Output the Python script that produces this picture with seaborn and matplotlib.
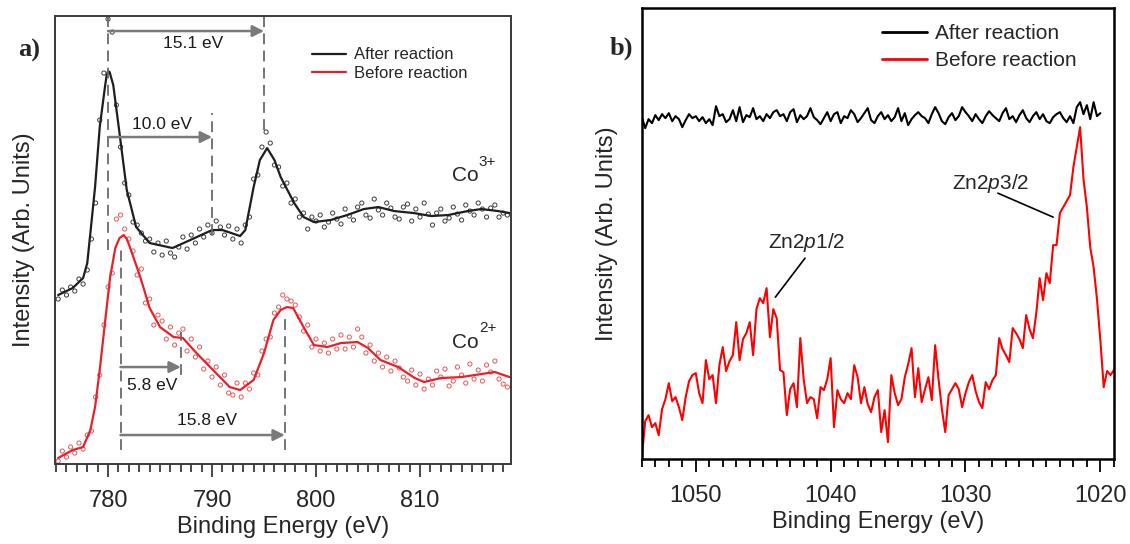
import numpy as np
import pandas as pd
import matplotlib
matplotlib.use('Agg')
import matplotlib.pyplot as plt
import seaborn as sns
from matplotlib.lines import Line2D
from matplotlib.ticker import MultipleLocator

# ---------------- panel a: Co 2p ----------------
# smoothed curves (binding energy, intensity in arb. units)
co_after_e = [775.2, 776.6, 777.6, 778.0, 778.3, 778.75, 779.2, 779.7, 779.85, 780.0, 780.15,
              780.5, 781.1, 781.8, 782.7, 784.0, 786.2, 787.9, 790.0, 791.0, 792.7, 793.2,
              794.0, 794.6, 795.3, 796.0, 796.6, 797.9, 798.8, 799.8, 801.4, 803.0, 804.6,
              806.0, 807.5, 809.4, 811.1, 812.7, 814.6, 815.9, 817.5, 818.6]
co_after_i = [170, 177, 187, 202, 232, 278, 338, 378, 389, 394, 393,
              380, 332, 275, 238, 222, 217, 225, 235, 235, 229, 235,
              278, 305, 317, 305, 288, 262, 248, 243, 245, 250, 256,
              258, 254, 252, 249, 250, 254, 256, 254, 252]

co_before_e = [775.2, 776.6, 777.6, 778.3, 778.75, 779.2, 779.7, 780.2, 780.7, 781.1, 781.5,
               781.8, 782.1, 783.1, 784.0, 785.0, 786.3, 787.2, 788.5, 790.1, 791.7, 792.7,
               794.0, 795.0, 795.9, 796.6, 797.2, 797.8, 798.8, 799.8, 801.1, 802.4, 804.0,
               805.0, 806.2, 807.9, 809.5, 810.4, 812.0, 814.0, 815.9, 817.2, 818.6]
co_before_i = [7, 15, 18, 35, 58, 95, 142, 188, 217, 227, 230,
               226, 218, 188, 157, 138, 128, 127, 112, 95, 78, 75,
               85, 112, 145, 155, 158, 157, 138, 120, 118, 122, 123,
               117, 105, 98, 87, 83, 87, 88, 91, 93, 88]

# raw points, one every 0.4 eV starting at 775.2 eV
co_pts_start, co_pts_step = 775.2, 0.4
co_after_pts = [166, 175, 170, 178, 174, 186, 181, 195, 226, 262,
                345, 392, 446, 433, 360, 318, 282, 270, 243, 240,
                232, 224, 226, 213, 222, 210, 224, 212, 208, 218,
                228, 216, 230, 222, 236, 228, 240, 232, 244, 238,
                230, 239, 226, 236, 222, 240, 248, 286, 290, 318,
                333, 322, 300, 298, 279, 282, 262, 266, 248, 252,
                236, 248, 244, 250, 238, 243, 252, 246, 241, 256,
                249, 245, 258, 262, 250, 247, 266, 255, 250, 262,
                257, 248, 246, 258, 261, 244, 256, 248, 262, 251,
                240, 252, 256, 244, 247, 258, 251, 245, 260, 254,
                250, 262, 256, 248, 257, 260, 248, 252, 250]
co_before_pts = [4, 14, 8, 18, 12, 22, 16, 30, 34, 68,
                 90, 140, 178, 192, 246, 250, 236, 226, 214, 190,
                 196, 162, 166, 140, 150, 144, 126, 138, 120, 132,
                 136, 114, 126, 108, 118, 96, 104, 88, 98, 80,
                 90, 72, 70, 82, 68, 82, 76, 92, 90, 114,
                 126, 128, 152, 158, 170, 166, 164, 160, 148, 134,
                 140, 118, 126, 114, 122, 112, 126, 116, 130, 116,
                 128, 118, 136, 128, 112, 120, 104, 112, 98, 108,
                 94, 104, 97, 88, 84, 95, 80, 91, 76, 86,
                 80, 94, 88, 96, 79, 84, 98, 90, 82, 101,
                 86, 95, 84, 100, 93, 104, 86, 81, 78]

# ---------------- panel b: Zn 2p ----------------
# one value every 0.25 eV, going down from 1054 eV
zn_start, zn_step = 1054.0, 0.25
zn_after = [342, 331, 340, 336, 344, 339, 345, 341,
            346, 338, 343, 340, 332, 339, 345, 341,
            343, 338, 342, 336, 340, 334, 353, 343,
            345, 337, 340, 349, 338, 352, 337, 344,
            342, 351, 340, 343, 338, 345, 341, 347,
            349, 343, 345, 338, 347, 350, 337, 344,
            340, 343, 351, 342, 339, 335, 341, 347,
            338, 345, 347, 336, 343, 341, 349, 345,
            337, 341, 346, 351, 339, 336, 343, 347,
            340, 344, 338, 342, 351, 338, 346, 334,
            340, 344, 347, 343, 341, 336, 345, 352,
            346, 338, 335, 342, 346, 339, 343, 352,
            347, 343, 338, 345, 340, 336, 343, 348,
            344, 341, 338, 346, 351, 340, 343, 337,
            344, 349, 341, 337, 343, 347, 340, 345,
            338, 336, 342, 345, 347, 341, 337, 343,
            336, 352, 357, 345, 354, 340, 357, 343,
            346]
zn_before = [2, 38, 44, 32, 36, 24, 50, 60,
             76, 58, 62, 52, 39, 62, 78, 84,
             86, 66, 56, 99, 80, 84, 56, 94,
             112, 88, 98, 104, 137, 99, 120, 126,
             137, 104, 150, 161, 156, 171, 122, 150,
             141, 89, 87, 44, 70, 76, 52, 121,
             80, 56, 62, 60, 41, 72, 69, 80,
             101, 32, 69, 60, 56, 66, 60, 94,
             82, 56, 72, 55, 47, 62, 69, 27,
             49, 17, 84, 66, 54, 60, 82, 95,
             111, 62, 91, 57, 70, 82, 59, 114,
             80, 50, 27, 64, 70, 76, 70, 52,
             66, 77, 84, 68, 57, 51, 77, 70,
             79, 84, 121, 110, 104, 97, 131, 126,
             120, 111, 144, 130, 121, 146, 181, 159,
             186, 176, 214, 214, 246, 252, 258, 264,
             292, 312, 332, 280, 252, 212, 192, 160,
             119, 72, 88, 84, 89]

BLACK = '#1e1e1e'
RED_A = '#e8202a'
RED_B = '#ff0000'
GREY = '#7a7a7a'

sns.set_theme(style='ticks')
plt.rcParams['font.family'] = ['Liberation Sans', 'DejaVu Sans']
plt.rcParams['mathtext.fontset'] = 'custom'
plt.rcParams['mathtext.rm'] = 'Liberation Sans'
plt.rcParams['mathtext.it'] = 'Liberation Sans:italic'

fig = plt.figure(figsize=(11.3, 5.44), dpi=100)
ax_a = fig.add_axes([0.0487, 0.147, 0.4035, 0.8235])
ax_b = fig.add_axes([0.568, 0.156, 0.4177, 0.829])

# ---- panel a ----
pts_e = np.round(co_pts_start + co_pts_step * np.arange(len(co_after_pts)), 2)
sns.scatterplot(x=pts_e, y=co_after_pts, ax=ax_a, marker='o', s=9,
                facecolor='none', edgecolor='#3c3c3c', linewidth=0.7)
sns.scatterplot(x=pts_e, y=co_before_pts, ax=ax_a, marker='o', s=9,
                facecolor='none', edgecolor='#e25a5a', linewidth=0.7)
sns.lineplot(x=co_after_e, y=co_after_i, ax=ax_a, color=BLACK, lw=1.6,
             estimator=None, sort=False)
sns.lineplot(x=co_before_e, y=co_before_i, ax=ax_a, color=RED_A, lw=1.6,
             estimator=None, sort=False)

ax_a.set_xlim(774.9, 818.75)
ax_a.set_ylim(1, 449)

# splitting markers: dashed guides and arrows
dash = dict(color='#6a6a6a', lw=1.3, linestyle=(0, (6, 3.5)))
for e, y0, y1 in [(780.0, 215, 448), (795.0, 335, 448), (790.0, 230, 352),
                  (781.2, 15, 217), (787.0, 90, 133), (797.0, 15, 152)]:
    ax_a.plot([e, e], [y0, y1], **dash)

arrow = dict(arrowstyle='-|>', color=GREY, lw=1.8, mutation_scale=17,
             shrinkA=0, shrinkB=0)
for e0, e1, y in [(780.0, 795.0, 434), (780.0, 790.0, 328),
                  (781.2, 787.0, 98), (781.2, 797.0, 30)]:
    ax_a.annotate('', xy=(e1, y), xytext=(e0, y), arrowprops=arrow)

for txt, e, y in [('15.1 eV', 788.2, 422), ('10.0 eV', 785.2, 341),
                  ('5.8 eV', 784.2, 80), ('15.8 eV', 789.5, 45)]:
    ax_a.text(e, y, txt, ha='center', va='center', fontsize=12.5, color='#1a1a1a')

# ion labels, superscript drawn as its own small text
for charge, y_co, y_sup in [('3+', 290, 303), ('2+', 123, 137)]:
    ax_a.text(813.1, y_co, 'Co', ha='left', va='center', fontsize=15)
    ax_a.text(815.65, y_sup, charge, ha='left', va='center', fontsize=11)

ax_a.legend(handles=[Line2D([], [], color=BLACK, lw=1.6),
                     Line2D([], [], color=RED_A, lw=1.6)],
            labels=['After reaction', 'Before reaction'],
            loc='upper left', bbox_to_anchor=(0.564, 0.93), frameon=False,
            fontsize=12, handlelength=2.0, handletextpad=0.5,
            labelspacing=0.2, borderpad=0, borderaxespad=0)

# ---- panel b ----
zn_e_after = zn_start - zn_step * np.arange(len(zn_after))
zn_e_before = zn_start - zn_step * np.arange(len(zn_before))
sns.lineplot(x=zn_e_after, y=zn_after, ax=ax_b, color='black', lw=1.5,
             estimator=None, sort=False)
sns.lineplot(x=zn_e_before, y=zn_before, ax=ax_b, color=RED_B, lw=1.5,
             estimator=None, sort=False)
ax_b.set_xlim(1054.0, 1019.0)
ax_b.set_ylim(0, 451)

ax_b.text(1028.1, 276, 'Zn2$\\mathit{p3/2}$', ha='center', va='center', fontsize=15)
ax_b.plot([1027.6, 1023.5], [266, 242], color='black', lw=1.2)
ax_b.text(1041.8, 217, 'Zn2$\\mathit{p1/2}$', ha='center', va='center', fontsize=15)
ax_b.plot([1041.9, 1044.1], [201, 162], color='black', lw=1.2)

ax_b.legend(handles=[Line2D([], [], color='black', lw=2),
                     Line2D([], [], color=RED_B, lw=2)],
            labels=['After reaction', 'Before reaction'],
            loc='upper left', bbox_to_anchor=(0.508, 0.964), frameon=False,
            fontsize=15, handlelength=2.2, handletextpad=0.35,
            labelspacing=0.37, borderpad=0, borderaxespad=0)

# ---- shared styling ----
for ax, spine_col, spine_w in [(ax_a, '#3a3a3a', 1.4), (ax_b, 'black', 1.8)]:
    ax.xaxis.set_major_locator(MultipleLocator(10))
    ax.xaxis.set_minor_locator(MultipleLocator(1))
    ax.set_yticks([])
    ax.tick_params(axis='x', which='major', direction='out', length=9.5, width=1.3,
                   color=spine_col, labelsize=17, pad=9)
    ax.tick_params(axis='x', which='minor', direction='out', length=5.5, width=1.3,
                   color=spine_col)
    for sp in ax.spines.values():
        sp.set_visible(True)
        sp.set_color(spine_col)
        sp.set_linewidth(spine_w)
    ax.set_xlabel('Binding Energy (eV)', fontsize=17, labelpad=3)
    ax.set_ylabel('Intensity (Arb. Units)', fontsize=17)

ax_a.yaxis.set_label_coords(-0.044, 0.5)
ax_b.yaxis.set_label_coords(-0.051, 0.5)

fig.text(29 / 1130, 1 - 50 / 544, 'a)', family='Liberation Serif', fontweight='bold',
         fontsize=19, ha='center', va='center')
fig.text(621 / 1130, 1 - 48 / 544, 'b)', family='Liberation Serif', fontweight='bold',
         fontsize=19, ha='center', va='center')

fig.savefig('out.png', dpi=100)
